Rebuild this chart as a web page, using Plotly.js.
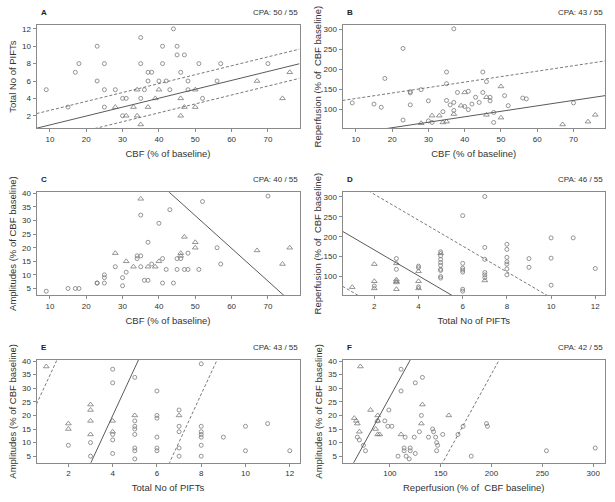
<!DOCTYPE html>
<html><head><meta charset="utf-8">
<script src="https://cdn.plot.ly/plotly-3.0.1.min.js"></script>
<style>html,body{margin:0;padding:0;background:#fff}#chart{width:615px;height:502px}</style>
</head><body><div id="chart"></div>
<script>
// ---------- data ----------
// Panel A: CBF (% of baseline) vs Total No of PIFTs
const aCircX = [9,15,17,18,23,23,25,25,25,28,30,31,30,35,35,35,36,37,38,37,40,41,41,42,43,44,45,45,47,46,48,48,51,52,56,57,70];
const aCircY = [5,3,7,8,10,6,8,5,3,5,4,4,2,11,8,4,5,7,7,6,6,10,8,6,5,12,10,9,9,7,6,5,8,4,6,8,8];
const aTriX = [28,31,33,34,34,35,37,39,40,46,46,47,50,50,67,74,76];
const aTriY = [3,2,3,2,5,1,3,4,5,4,2,3,5,3,6,4,7];
const aFit = [[-0.08,0.1025],[1.60,0.1025],[-1.76,0.1025]];
// Panel B: CBF vs Reperfusion
const bCircX = [9,15,17,18,23,23,25,25,25,28,30,30,31,34,35,35,35,36,37,37,37,38,40,41,41,42,43,44,45,45,46,47,47,48,48,51,52,56,57,70];
const bCircY = [117,114,106,178,253,74,145,142,112,150,122,72,68,95,194,165,123,112,302,118,98,143,108,146,100,114,131,118,194,143,170,131,122,93,68,135,110,129,127,117];
const bTriX = [28,31,33,34,35,37,39,40,46,46,50,50,67,74,76];
const bTriY = [66,85,85,68,70,89,110,143,131,87,158,80,63,70,87];
const bFit = [[27.6,1.365],[114.3,1.365]];
// Panel C: CBF vs Amplitudes
const cCircX = [9,15,17,18,23,23,25,25,25,28,30,30,31,34,34,35,35,35,36,37,37,38,40,41,41,42,43,44,45,45,46,47,48,48,51,52,56,57,70];
const cCircY = [4,5,5,5,7,7,10,9,7,13,9,6,11,17,16,32,17,13,8,8,22,14,29,16,7,12,34,7,16,12,16,12,18,12,12,37,20,14,39];
const cTriX = [28,31,33,35,37,39,40,46,46,47,50,50,67,74,76];
const cTriY = [18,15,13,38,13,13,15,18,17,24,22,20,19,14,20];
const cFit = [[92.0,-1.204]];
// Panel D: Total No of PIFTs vs Reperfusion
const dCircX = [2,3,3,4,4,4,5,5,5,5,5,5,5,5,5,6,6,6,6,6,6,6,7,7,7,7,7,7,8,8,8,8,8,8,8,9,9,10,10,10,11,12];
const dCircY = [76,145,118,126,122,74,162,152,143,135,128,118,115,100,96,253,133,121,116,111,68,63,301,173,143,110,104,97,181,168,148,137,131,119,104,145,123,197,146,78,197,120];
const dTriX = [1,2,2,2,3,3,3,3,3,4,4,4,5,7];
const dTriY = [73,131,88,70,133,92,88,85,68,113,88,70,158,90];
const dFit = [[231.7,-32.5],[371.5,-32.5],[93.6,-32.5]];
// Panel E: Total No of PIFTs vs Amplitudes
const eCircX = [2,3,3,4,4,4,4,4,5,5,5,5,5,5,5,5,6,6,6,6,6,6,7,7,7,7,7,8,8,8,8,8,8,8,9,10,10,11,12];
const eCircY = [9,10,5,37,32,13,11,6,34,18,16,15,13,8,7,4,29,20,19,12,8,7,22,16,14,8,5,39,16,14,13,12,9,5,12,16,7,17,7];
const eTriX = [1,2,2,3,3,3,3,4,4,5,7];
const eTriY = [38,17,15,24,22,18,13,18,14,20,20];
const eFit = [[-50.5,17.6],[14.3,17.6],[-113,17.6]];
// Panel F: Reperfusion vs Amplitudes
const fCircX = [68,70,74,76,88,95,99,98,102,108,111,111,115,114,114,116,119,120,120,125,124,125,132,131,129,138,142,143,145,146,147,146,152,167,172,180,195,196,254,302];
const fCircY = [12,11,9,7,18,18,22,16,16,5,37,29,12,8,7,5,4,8,7,6,12,32,34,20,14,12,15,14,12,10,9,7,13,13,16,5,17,16,7,8];
const fTriX = [65,67,68,70,71,81,88,88,86,88,90,111,132,131,158];
const fTriY = [19,18,17,14,38,22,20,18,15,13,13,13,24,17,20];
const fFit = [[-41.2,0.68],[-100.7,0.68]];

const cbfTitle = 'CBF (% of baseline)';
const piftTitle = 'Total No of PIFTs';
const repTitle = 'Reperfusion (% of\u00a0 CBF baseline)';
const ampTitle = 'Amplitudes (% of CBF baseline)';
const labels = ['A','B','C','D','E','F'];
const cpa = ['CPA: 50 / 55','CPA: 43 / 55','CPA: 40 / 55','CPA: 46 / 55','CPA: 43 / 55','CPA: 42 / 55'];

// ---------- layout helpers ----------
const W = 615, H = 502;
const cols = [[36.5,299.5],[342.5,605]];
const rows = [[25,128.3],[192.3,295],[360,462.7]];
const rng = {cbf:[6.32,78.68], pift:[0.56,12.44], rep:[53.4,311.6], amp:[2.6,40.4]};
const tk = {cbf:[10,10], pift:[2,2], rep:[100,50], amp:[5,5]};
const ttl = {cbf:cbfTitle, pift:piftTitle, rep:repTitle, amp:ampTitle};

const panels = [
  {xv:'cbf', yv:'pift', cx:aCircX, cy:aCircY, tx:aTriX, ty:aTriY, fit:aFit},
  {xv:'cbf', yv:'rep', cx:bCircX, cy:bCircY, tx:bTriX, ty:bTriY, fit:bFit},
  {xv:'cbf', yv:'amp', cx:cCircX, cy:cCircY, tx:cTriX, ty:cTriY, fit:cFit},
  {xv:'pift', yv:'rep', cx:dCircX, cy:dCircY, tx:dTriX, ty:dTriY, fit:dFit},
  {xv:'pift', yv:'amp', cx:eCircX, cy:eCircY, tx:eTriX, ty:eTriY, fit:eFit},
  {xv:'rep', yv:'amp', cx:fCircX, cy:fCircY, tx:fTriX, ty:fTriY, fit:fFit}
];

const font = 'Liberation Sans, Arial, sans-serif';
const layout = {
  width: W, height: H, margin:{l:0,r:0,t:0,b:0},
  paper_bgcolor:'#fff', plot_bgcolor:'#fff', showlegend:false,
  font:{family:font, color:'#333', size:8},
  annotations: []
};
const data = [];

panels.forEach((p, i) => {
  const n = i + 1;
  const col = cols[i % 2], row = rows[Math.floor(i / 2)];
  const xa = 'x' + (n === 1 ? '' : n), ya = 'y' + (n === 1 ? '' : n);
  const common = {
    showline:true, mirror:true, linecolor:'#8a8a8a', linewidth:1,
    ticks:'outside', ticklen:3, tickwidth:1, tickcolor:'#8a8a8a',
    tickfont:{size:8, color:'#333', family:font},
    showgrid:false, zeroline:false, tickmode:'linear', fixedrange:true
  };
  layout['xaxis' + (n === 1 ? '' : n)] = Object.assign({}, common, {
    domain:[col[0]/W, col[1]/W], anchor: ya, range: rng[p.xv],
    tick0: tk[p.xv][0], dtick: tk[p.xv][1],
    title:{text: ttl[p.xv], font:{size:9.5, color:'#333', family:font}, standoff:7}
  });
  layout['yaxis' + (n === 1 ? '' : n)] = Object.assign({}, common, {
    domain:[1 - row[1]/H, 1 - row[0]/H], anchor: xa, range: rng[p.yv],
    tick0: tk[p.yv][0], dtick: tk[p.yv][1],
    title:{text: ttl[p.yv], font:{size:9.5, color:'#333', family:font}, standoff: p.yv === 'rep' ? 0 : 3}
  });
  data.push({x:p.cx, y:p.cy, xaxis:xa, yaxis:ya, type:'scatter', mode:'markers',
    marker:{symbol:'circle-open', size:4, color:'#7a7a7a', line:{width:0.8, color:'#7a7a7a'}},
    hoverinfo:'skip'});
  data.push({x:p.tx, y:p.ty, xaxis:xa, yaxis:ya, type:'scatter', mode:'markers',
    marker:{symbol:'triangle-up-open', size:5, color:'#7a7a7a', line:{width:0.8, color:'#7a7a7a'}},
    hoverinfo:'skip'});
  const xr = rng[p.xv];
  p.fit.forEach((c, k) => {
    data.push({x:xr, y:xr.map(v => c[0] + c[1]*v), xaxis:xa, yaxis:ya, type:'scatter', mode:'lines',
      line:{color: k === 0 ? '#5a5a5a' : '#6a6a6a', width: k === 0 ? 1 : 0.9, dash: k === 0 ? 'solid' : '3px,2px'},
      hoverinfo:'skip'});
  });
  const ly = 1 - (row[0] - 12.5)/H;
  layout.annotations.push({xref:'paper', yref:'paper', x:(col[0]+2)/W, y:ly, xanchor:'left', yanchor:'middle',
    text:'<b>' + labels[i] + '</b>', showarrow:false, font:{size:8, color:'#222', family:font}});
  layout.annotations.push({xref:'paper', yref:'paper', x:(col[1])/W, y:ly, xanchor:'right', yanchor:'middle',
    text:cpa[i], showarrow:false, font:{size:8, color:'#333', family:font}});
});

Plotly.newPlot('chart', data, layout, {staticPlot:true, displayModeBar:false});
</script></body></html>
